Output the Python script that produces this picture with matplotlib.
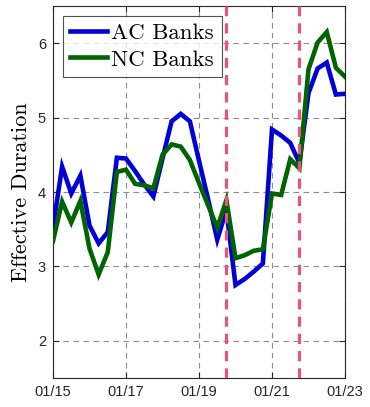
import matplotlib
matplotlib.use("Agg")
import matplotlib.pyplot as plt
import numpy as np

# quarterly observations 2015Q1 .. 2023Q1
quarters = np.arange(33)
ac_banks = [3.53, 4.34, 3.98, 4.22, 3.55, 3.31, 3.46, 4.46, 4.45, 4.28, 4.10, 3.94,
            4.45, 4.95, 5.05, 4.95, 4.42, 3.90, 3.36, 3.76, 2.75, 2.83, 2.93, 3.04,
            4.84, 4.76, 4.66, 4.39, 5.33, 5.66, 5.74, 5.31, 5.32]
nc_banks = [3.34, 3.87, 3.59, 3.88, 3.24, 2.89, 3.19, 4.27, 4.30, 4.11, 4.09, 4.05,
            4.50, 4.64, 4.61, 4.43, 4.12, 3.82, 3.52, 3.89, 3.11, 3.15, 3.21, 3.23,
            3.98, 3.96, 4.44, 4.32, 5.65, 6.01, 6.15, 5.67, 5.55]
event_quarters = [19, 27]
xtick_years = [2015, 2017, 2019, 2021, 2023]
xtick_labels = ["01/15", "01/17", "01/19", "01/21", "01/23"]
yticks = [2, 3, 4, 5, 6]
series_labels = ["AC Banks", "NC Banks"]

x = 2015 + quarters / 4.0
ev = [2015 + q / 4.0 for q in event_quarters]

fig = plt.figure(figsize=(3.70, 4.07), dpi=100)
ax = fig.add_axes([53/370, 1 - 378/407, (345-53)/370, (378-6)/407])

ax.grid(True, color="#8c8c8c", linestyle=(0, (5, 4)), linewidth=0.8)
ax.set_axisbelow(True)

l1, = ax.plot(x, ac_banks, color="#0000d6", linewidth=3.3, solid_joinstyle="miter", zorder=3)
l2, = ax.plot(x, nc_banks, color="#006400", linewidth=3.3, solid_joinstyle="miter", zorder=4)
for e in ev:
    ax.axvline(e, color="#e8557a", linewidth=2.3, linestyle=(0, (3.2, 2.2)), zorder=5)

ax.set_xlim(2015, 2023)
ax.set_ylim(1.5, 6.5)
ax.set_xticks(xtick_years)
ax.set_xticklabels(xtick_labels)
ax.set_yticks(yticks)
for lab in ax.get_xticklabels() + ax.get_yticklabels():
    lab.set_fontfamily("Liberation Sans")
    lab.set_fontsize(10.5)
    lab.set_color("#262626")
ax.tick_params(direction="in", top=True, right=True, length=4, color="#262626", pad=5)
for s in ax.spines.values():
    s.set_color("#262626")
    s.set_linewidth(0.8)

ax.set_ylabel("Effective Duration", fontfamily="cmr10", fontsize=16, labelpad=5)

leg = ax.legend([l1, l2], series_labels, loc="upper left", bbox_to_anchor=(0.033, 0.974),
                prop={"family": "cmr10", "size": 16.5}, frameon=True, fancybox=False,
                edgecolor="#262626", handlelength=1.6, handletextpad=0.2,
                borderpad=0.33, labelspacing=0.27, borderaxespad=0)
leg.get_frame().set_linewidth(0.8)

fig.savefig("out.png", dpi=100)
